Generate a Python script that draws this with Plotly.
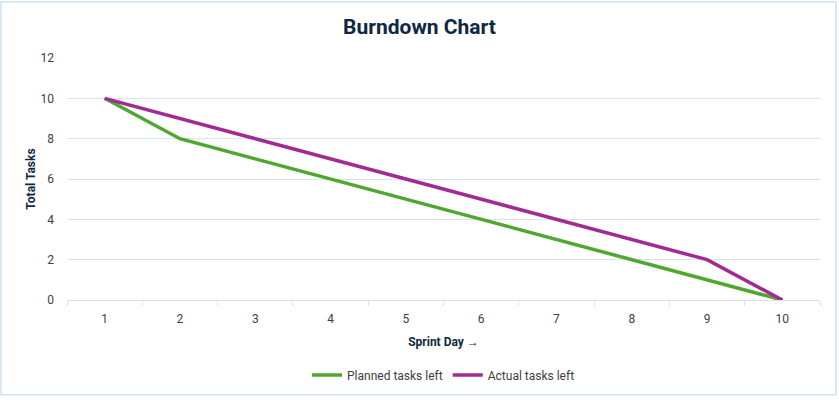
import plotly.graph_objects as go

days = [str(i) for i in range(1, 11)]
planned = [10, 8, 7, 6, 5, 4, 3, 2, 1, 0]
actual = [10, 9, 8, 7, 6, 5, 4, 3, 2, 0]

W, H = 839, 402
L, R, T, B = 67, 19, 58, 99
pw, ph = W - L - R, H - T - B
font = "Liberation Sans Narrow, Roboto, Arial"

fig = go.Figure()
fig.add_trace(go.Scatter(x=days, y=planned, mode="lines", name="Planned tasks left",
                         line=dict(color="#4EA72E", width=3.5)))
fig.add_trace(go.Scatter(x=days, y=actual, mode="lines", name="Actual tasks left",
                         line=dict(color="#A02B93", width=3.5)))

fig.update_layout(
    width=W, height=H,
    margin=dict(l=L, r=R, t=T, b=B),
    paper_bgcolor="white", plot_bgcolor="white",
    font=dict(family=font, size=12, color="#404040"),
    title=dict(text="<b>Burndown Chart</b>", x=0.5, xanchor="center", y=1 - 27 / H, yanchor="middle",
               font=dict(family=font, size=21, color="#0E2841")),
    showlegend=True,
    legend=dict(orientation="h", x=0.5, xanchor="center", y=(ph - (379 - T)) / ph, yanchor="middle",
                font=dict(size=12, color="#404040"), itemwidth=30, tracegroupgap=0),
)
fig.update_xaxes(type="category", range=[-0.5, 9.5], tickson="boundaries", ticks="outside", ticklen=5,
                 tickcolor="#D6E4F0", showline=True, linecolor="#D6E4F0", linewidth=1,
                 showgrid=False, zeroline=False, ticklabelstandoff=8,
                 title=dict(text="<b>Sprint Day →</b>", font=dict(size=12, color="#0E2841"), standoff=12))
fig.update_yaxes(range=[0, 12], dtick=2, showgrid=True, gridcolor="#D6E4F0", gridwidth=1,
                 zeroline=False, showline=False, ticks="", ticklabelstandoff=12,
                 title=dict(text="<b>Total Tasks</b>", font=dict(size=12, color="#0E2841"), standoff=2))

fig.add_shape(type="rect", xref="paper", yref="paper",
              x0=(1 - L) / pw, x1=(W - 3 - L) / pw,
              y0=(ph - (H - 3 - T)) / ph, y1=(ph - (1 - T)) / ph,
              line=dict(color="#CFE0F1", width=1.5), layer="below")

fig.write_html("out.html", config={"displayModeBar": False},
               post_script="document.body.style.margin='0';")
